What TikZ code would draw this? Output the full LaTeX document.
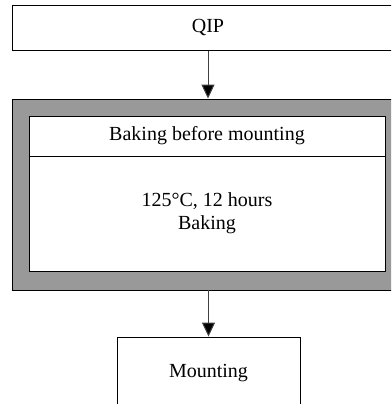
\documentclass[tikz,border=0pt]{standalone}
\usepackage{fontspec}
\setmainfont{Liberation Serif}
\usetikzlibrary{arrows.meta}
\definecolor{panelgray}{HTML}{999999}
\definecolor{flowline}{HTML}{404040}
\tikzset{
  box/.style={draw=black, line width=0.9pt, fill=white, rectangle, inner sep=0pt,
              font=\fontsize{20}{23}\selectfont, align=center},
  panel/.style={draw=black, line width=0.9pt, fill=panelgray, rectangle, inner sep=0pt},
  flow/.style={draw=flowline, line width=1pt, -{Triangle[width=13pt,length=14pt,fill=black]}}
}
\begin{document}
\begin{tikzpicture}[x=1pt,y=-1pt]
  \useasboundingbox (0,0) rectangle (391,404);
  \clip (0,0) rectangle (391,404);
  % input step
  \node[box, minimum width=392pt, minimum height=45.5pt] (qip) at (208,27.75) {QIP};
  % baking stage: grey frame holding a titled white card
  \node[panel, minimum width=391pt, minimum height=191pt] (outer) at (207.5,194.5) {};
  \node[box, minimum width=356pt, minimum height=40pt] (head) at (207,136) {Baking before mounting};
  \node[box, minimum width=356pt, minimum height=115pt] (body) at (207,213.5) {125°C, 12 hours\\Baking};
  % output step
  \node[box, minimum width=183pt, minimum height=72pt] (mount) at (208.5,373) {Mounting};
  % connectors
  \draw[flow] (qip.south) -- (qip.south |- outer.north);
  \draw[flow] (outer.south -| mount.north) -- (mount.north);
\end{tikzpicture}
\end{document}
